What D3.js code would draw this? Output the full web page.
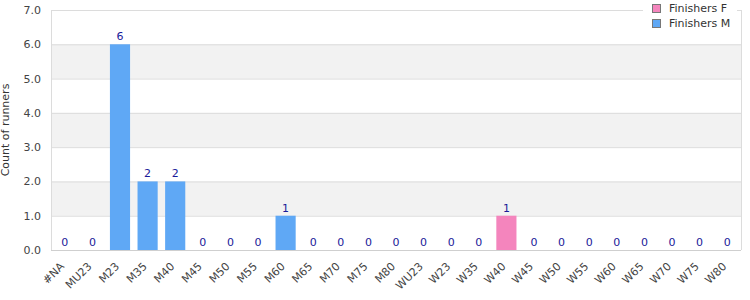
<!DOCTYPE html>
<html>
<head>
<meta charset="utf-8">
<script src="https://cdn.jsdelivr.net/npm/d3@7"></script>
<style>
  body { margin: 0; background: #fff; }
  text { font-family: "DejaVu Sans", sans-serif; }
</style>
</head>
<body>
<div id="chart"></div>
<script>
var categories = ["#NA", "MU23", "M23", "M35", "M40", "M45", "M50", "M55", "M60", "M65", "M70", "M75", "M80",
    "WU23", "W23", "W35", "W40", "W45", "W50", "W55", "W60", "W65", "W70", "W75", "W80"];
var finishersF = [0, 0, 0, 0, 0, 0, 0, 0, 0, 0, 0, 0, 0, 0, 0, 0, 1, 0, 0, 0, 0, 0, 0, 0, 0];
var finishersM = [0, 0, 6, 2, 2, 0, 0, 0, 1, 0, 0, 0, 0, 0, 0, 0, 0, 0, 0, 0, 0, 0, 0, 0, 0];
var yTicks = [0, 1, 2, 3, 4, 5, 6, 7];
var seriesNames = ["Finishers F", "Finishers M"];
var colors = { "Finishers F": "#f485bd", "Finishers M": "#5fa8f5" };

var width = 750, height = 300;
var margin = { left: 51, right: 9, top: 10, bottom: 50 };

var svg = d3.select("#chart").append("svg")
    .attr("width", width)
    .attr("height", height);

var x = d3.scaleBand()
    .domain(categories)
    .range([margin.left, width - margin.right])
    .paddingInner(0.27)
    .paddingOuter(0.135);

var y = d3.scaleLinear()
    .domain([0, 7])
    .range([height - margin.bottom, margin.top]);

// alternating bands
var bands = svg.append("g");
for (var i = 0; i < 7; i++) {
    if (i % 2 == 1) {
        bands.append("rect")
            .attr("x", margin.left)
            .attr("y", y(i + 1))
            .attr("width", width - margin.right - margin.left)
            .attr("height", y(i) - y(i + 1))
            .style("fill", "#f2f2f2");
    }
}

svg.append("g").selectAll("line")
    .data(yTicks.slice(1))
    .enter().append("line")
    .attr("x1", margin.left)
    .attr("x2", width - margin.right)
    .attr("y1", function(d) { return y(d) + 0.5; })
    .attr("y2", function(d) { return y(d) + 0.5; })
    .style("stroke", "#dcdcdc");

// frame
svg.append("line")
    .attr("x1", margin.left + 0.5).attr("x2", margin.left + 0.5)
    .attr("y1", margin.top).attr("y2", y(0))
    .style("stroke", "#dcdcdc");
svg.append("line")
    .attr("x1", width - margin.right + 0.5).attr("x2", width - margin.right + 0.5)
    .attr("y1", margin.top).attr("y2", y(0))
    .style("stroke", "#dcdcdc");

var data = categories.map(function(c, i) {
    return { cat: c, F: finishersF[i], M: finishersM[i] };
});
var stack = d3.stack().keys(["F", "M"]);
var stacked = stack(data);

svg.append("g").selectAll("g")
    .data(stacked)
    .enter().append("g")
    .style("fill", function(d) { return d.key == "F" ? colors["Finishers F"] : colors["Finishers M"]; })
    .selectAll("rect")
    .data(function(d) { return d.filter(function(v) { return v[1] > v[0]; }); })
    .enter().append("rect")
    .attr("x", function(d) { return x(d.data.cat); })
    .attr("y", function(d) { return y(d[1]); })
    .attr("width", x.bandwidth())
    .attr("height", function(d) { return y(d[0]) - y(d[1]); });

// bottom axis line
svg.append("line")
    .attr("x1", margin.left).attr("x2", width - margin.right)
    .attr("y1", y(0) + 0.5).attr("y2", y(0) + 0.5)
    .style("stroke", "#cfcfcf");

// value labels
svg.append("g").selectAll("text")
    .data(data)
    .enter().append("text")
    .attr("x", function(d) { return x(d.cat) + x.bandwidth() / 2; })
    .attr("y", function(d) { return y(d.F + d.M) - 4; })
    .attr("text-anchor", "middle")
    .style("font-size", "11px")
    .style("fill", "#1a1a99")
    .text(function(d) { return d.F + d.M; });

// y axis labels
svg.append("g").selectAll("text")
    .data(yTicks)
    .enter().append("text")
    .attr("x", margin.left - 10)
    .attr("y", function(d) { return y(d) + 4; })
    .attr("text-anchor", "end")
    .style("font-size", "11px")
    .style("fill", "#444")
    .text(function(d) { return d.toFixed(1); });

svg.append("text")
    .attr("transform", "translate(9," + ((margin.top + y(0)) / 2) + ") rotate(-90)")
    .attr("text-anchor", "middle")
    .style("font-size", "11px")
    .style("fill", "#333")
    .text("Count of runners");

// x labels
svg.append("g").selectAll("text")
    .data(categories)
    .enter().append("text")
    .attr("transform", function(d) {
        return "translate(" + (x(d) + x.bandwidth() / 2) + "," + (y(0) + 17) + ") rotate(-45)";
    })
    .attr("text-anchor", "end")
    .style("font-size", "11px")
    .style("fill", "#444")
    .text(function(d) { return d; });

// legend
var lg = svg.append("g");
lg.append("rect")
    .attr("x", 643).attr("y", 0)
    .attr("width", 94).attr("height", 32)
    .style("fill", "#fff");
lg.selectAll("g")
    .data(seriesNames)
    .enter().append("g")
    .each(function(d, i) {
        var g = d3.select(this);
        g.append("rect")
            .attr("x", 652.5).attr("y", 4.5 + i * 15)
            .attr("width", 8).attr("height", 8)
            .style("fill", colors[d])
            .style("stroke", "#777");
        g.append("text")
            .attr("x", 669).attr("y", 12 + i * 15)
            .style("font-size", "11px")
            .style("fill", "#333")
            .text(d);
    });
</script>
</body>
</html>
